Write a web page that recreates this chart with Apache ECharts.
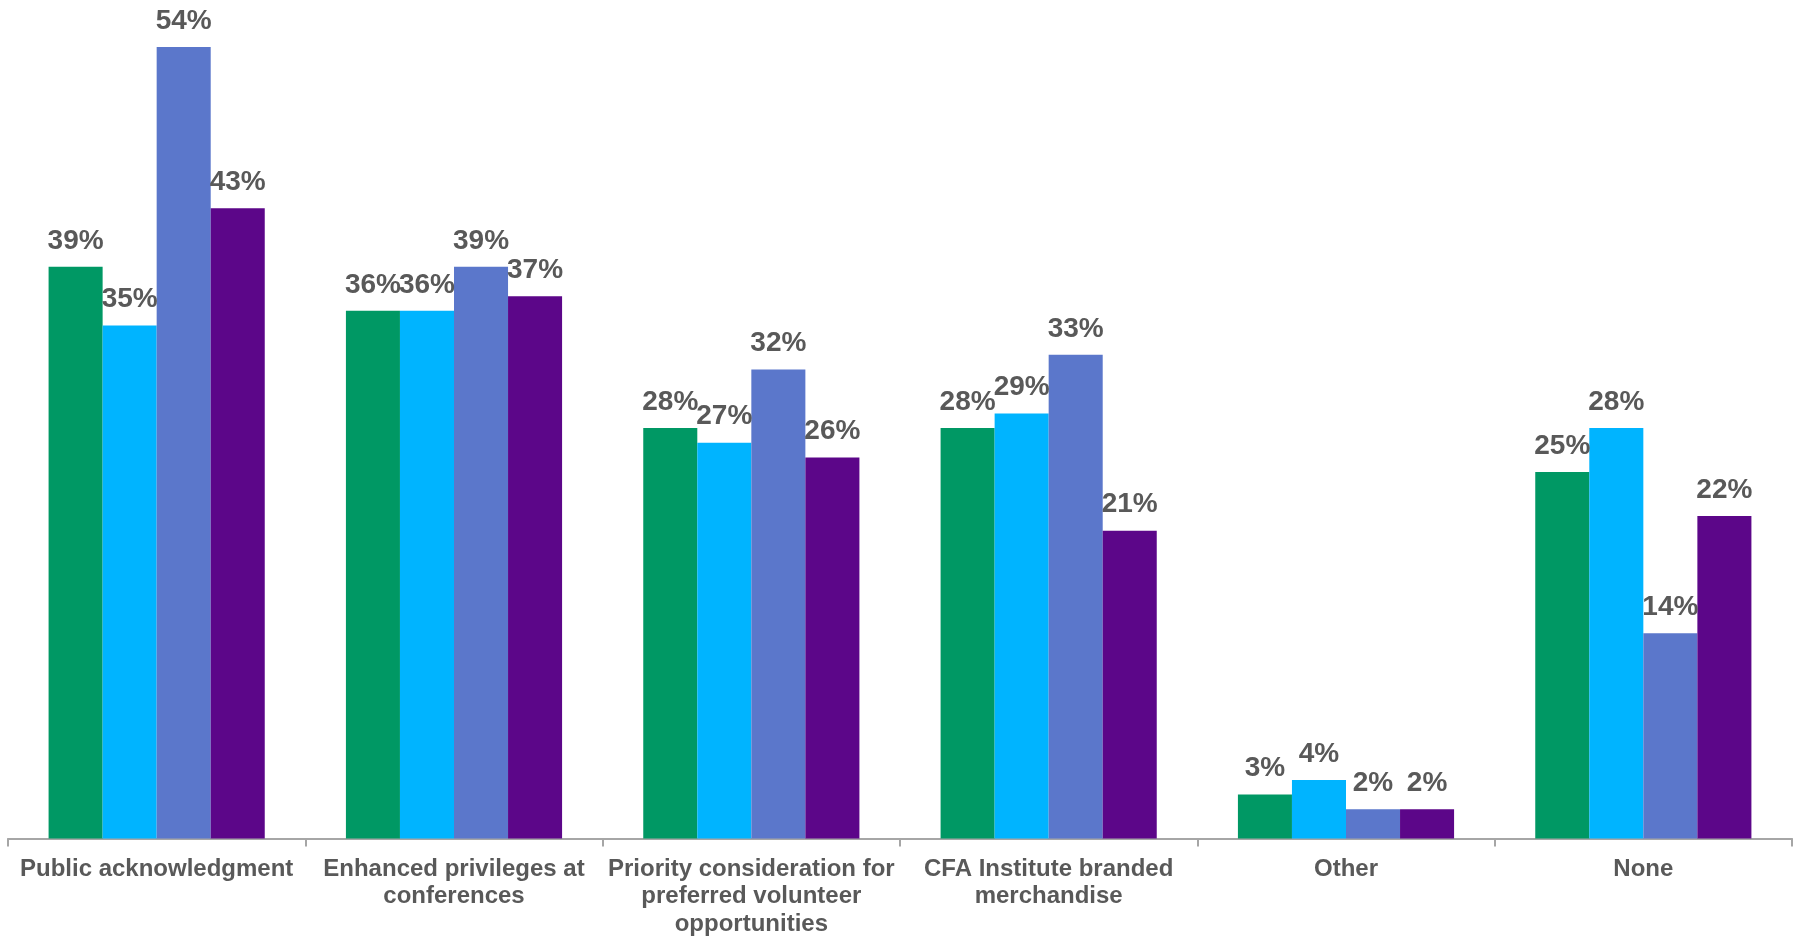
<!DOCTYPE html>
<html>
<head>
<meta charset="utf-8">
<script src="https://cdn.jsdelivr.net/npm/echarts@6/dist/echarts.min.js"></script>
<style>
html,body{margin:0;padding:0;background:#fff;}
#chart{width:1794px;height:936px;}
</style>
</head>
<body>
<div id="chart"></div>
<script>
const categories = [
  "Public acknowledgment",
  "Enhanced privileges at\nconferences",
  "Priority consideration for\npreferred volunteer\nopportunities",
  "CFA Institute branded\nmerchandise",
  "Other",
  "None"
];
const seriesNames = ["Series 1", "Series 2", "Series 3", "Series 4"];
const series1 = [39, 36, 28, 28, 3, 25];
const series2 = [35, 36, 27, 29, 4, 28];
const series3 = [54, 39, 32, 33, 2, 14];
const series4 = [43, 37, 26, 21, 2, 22];
const colors = ["#009864", "#00B4FF", "#5B77CB", "#5C0689"];

const chart = echarts.init(document.getElementById('chart'), null, {renderer: 'canvas'});
const font = "'Liberation Sans', Arial, sans-serif";
const allData = [series1, series2, series3, series4];
chart.setOption({
  animation: false,
  backgroundColor: '#ffffff',
  grid: {left: 8, right: 2, top: 0, bottom: 97.4, containLabel: false, outerBoundsMode: 'none'},
  xAxis: {
    type: 'category',
    data: categories,
    axisLine: {lineStyle: {color: '#A6A6A6', width: 2}},
    axisTick: {show: true, alignWithLabel: false, length: 8, lineStyle: {color: '#A6A6A6', width: 2}},
    axisLabel: {
      interval: 0,
      color: '#595959',
      fontFamily: font,
      fontWeight: 'bold',
      fontSize: 24,
      lineHeight: 27.5,
      margin: 17
    }
  },
  yAxis: {
    type: 'value',
    min: 0,
    max: 57.2,
    show: false,
    splitLine: {show: false}
  },
  series: allData.map((d, i) => ({
    name: seriesNames[i],
    type: 'bar',
    data: d,
    barGap: '0%',
    barCategoryGap: '27.3%',
    itemStyle: {color: colors[i]},
    label: {
      show: true,
      position: 'top',
      distance: 12,
      formatter: '{c}%',
      color: '#595959',
      fontFamily: font,
      fontWeight: 'bold',
      fontSize: 28
    }
  }))
});
</script>
</body>
</html>
